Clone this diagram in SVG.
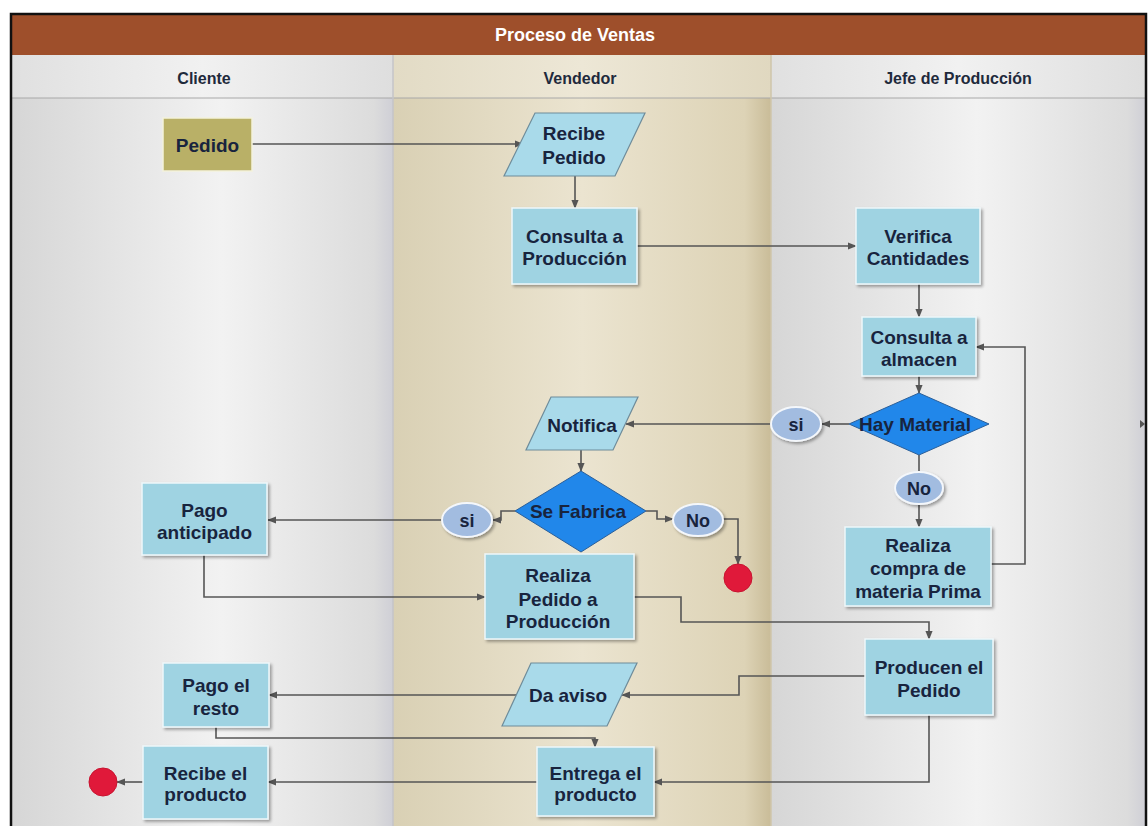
<svg xmlns="http://www.w3.org/2000/svg" width="1148" height="826" viewBox="0 0 1148 826">
  <defs>
    <linearGradient id="laneGray" x1="0" y1="0" x2="1" y2="0">
      <stop offset="0" stop-color="#d6d6d6"/>
      <stop offset="0.55" stop-color="#f2f2f2"/>
      <stop offset="0.95" stop-color="#dcdcdc"/>
      <stop offset="1" stop-color="#cfcfd6"/>
    </linearGradient>
    <linearGradient id="laneTan" x1="0" y1="0" x2="1" y2="0">
      <stop offset="0" stop-color="#d9d0b4"/>
      <stop offset="0.5" stop-color="#ebe4d0"/>
      <stop offset="0.93" stop-color="#ddd3b6"/>
      <stop offset="1" stop-color="#c9bc98"/>
    </linearGradient>
    <linearGradient id="headGray" x1="0" y1="0" x2="1" y2="0">
      <stop offset="0" stop-color="#e0e0e0"/>
      <stop offset="0.5" stop-color="#f1f1f1"/>
      <stop offset="1" stop-color="#dedede"/>
    </linearGradient>
    <linearGradient id="headTan" x1="0" y1="0" x2="1" y2="0">
      <stop offset="0" stop-color="#e2dbc5"/>
      <stop offset="0.5" stop-color="#ede7d6"/>
      <stop offset="1" stop-color="#e0d8c0"/>
    </linearGradient>
    <filter id="shadow" x="-10%" y="-10%" width="125%" height="130%">
      <feDropShadow dx="2" dy="2" stdDeviation="1.5" flood-color="#000" flood-opacity="0.35"/>
    </filter>
    <marker id="arrow" viewBox="0 0 10 10" refX="9" refY="5" markerWidth="9" markerHeight="9" markerUnits="userSpaceOnUse" orient="auto">
      <path d="M0,1 L10,5 L0,9 Z" fill="#555"/>
    </marker>
  </defs>
  <style>
    .lbl { font-family: "Liberation Sans", Arial, sans-serif; font-weight: bold; font-size: 19px; fill: #18243e; text-anchor: middle; }
    .small { font-size: 18px; }
    .head { font-family: "Liberation Sans", Arial, sans-serif; font-weight: bold; font-size: 16px; fill: #1f2a3c; text-anchor: middle; }
    .title { font-family: "Liberation Sans", Arial, sans-serif; font-weight: bold; font-size: 18px; fill: #ffffff; text-anchor: middle; }
    .box { fill: #9fd3e2; stroke: #eef7fa; stroke-width: 1.5; filter: url(#shadow); }
    .para { fill: #a9daea; stroke: #6f8c9a; stroke-width: 1.2; }
    .dia { fill: #2187ea; stroke: #2b5f99; stroke-width: 1; }
    .oval { fill: #a2bce0; stroke: #f4f7fb; stroke-width: 2; filter: url(#shadow); }
    .stop { fill: #e0193a; stroke: #c81430; stroke-width: 1; }
    .wire { fill: none; stroke: #555; stroke-width: 1.6; }
  </style>

  <!-- frame background -->
  <rect x="0" y="0" width="1148" height="826" fill="#ffffff"/>

  <!-- swimlanes -->
  <g id="lanes">
    <rect x="12" y="55" width="381" height="771" fill="url(#laneGray)"/>
    <rect x="393" y="55" width="378" height="771" fill="url(#laneTan)"/>
    <rect x="771" y="55" width="375" height="771" fill="url(#laneGray)"/>
    <rect x="12" y="55" width="381" height="43" fill="url(#headGray)"/>
    <rect x="393" y="55" width="378" height="43" fill="url(#headTan)"/>
    <rect x="771" y="55" width="375" height="43" fill="url(#headGray)"/>
    <line x1="12" y1="98" x2="1146" y2="98" stroke="#a8a8a8" stroke-width="1"/>
    <line x1="393" y1="55" x2="393" y2="826" stroke="#c4c4c8" stroke-width="1.5"/>
    <line x1="771" y1="55" x2="771" y2="826" stroke="#cfc6ab" stroke-width="1.5"/>
    <text class="head" x="204" y="84">Cliente</text>
    <text class="head" x="580" y="84">Vendedor</text>
    <text class="head" x="958" y="84">Jefe de Producción</text>
  </g>

  <!-- title band -->
  <g id="title">
    <rect x="11" y="14" width="1135" height="41" fill="#9e4f2b"/>
    <text class="title" x="575" y="41">Proceso de Ventas</text>
  </g>

  <!-- outer border -->
  <rect x="11" y="14" width="1135" height="820" fill="none" stroke="#111" stroke-width="2.5"/>

  <!-- connectors -->
  <g id="connectors">
    <path class="wire" d="M252,144 H523" marker-end="url(#arrow)"/>
    <path class="wire" d="M575,176 V208" marker-end="url(#arrow)"/>
    <path class="wire" d="M637,246 H856" marker-end="url(#arrow)"/>
    <path class="wire" d="M919,284 V317" marker-end="url(#arrow)"/>
    <path class="wire" d="M919,376 V393" marker-end="url(#arrow)"/>
    <path class="wire" d="M849,424 H822" marker-end="url(#arrow)"/>
    <path class="wire" d="M771,424 H626" marker-end="url(#arrow)"/>
    <path class="wire" d="M919,455 V472"/>
    <path class="wire" d="M919,504 V527" marker-end="url(#arrow)"/>
    <path class="wire" d="M991,564 H1025 V347 H976" marker-end="url(#arrow)"/>
    <path class="wire" d="M581,450 V471" marker-end="url(#arrow)"/>
    <path class="wire" d="M515,511 H501 V520 H493" marker-end="url(#arrow)"/>
    <path class="wire" d="M442,520 H268" marker-end="url(#arrow)"/>
    <path class="wire" d="M646,511 H657 V519 H673" marker-end="url(#arrow)"/>
    <path class="wire" d="M723,519 H738 V564" marker-end="url(#arrow)"/>
    <path class="wire" d="M204,555 V597 H485" marker-end="url(#arrow)"/>
    <path class="wire" d="M634,597 H681 V622 H929 V639" marker-end="url(#arrow)"/>
    <path class="wire" d="M865,676 H739 V695 H622" marker-end="url(#arrow)"/>
    <path class="wire" d="M516,695 H269" marker-end="url(#arrow)"/>
    <path class="wire" d="M216,727 V738 H595 V747" marker-end="url(#arrow)"/>
    <path class="wire" d="M929,715 V782 H654" marker-end="url(#arrow)"/>
    <path class="wire" d="M537,782 H268" marker-end="url(#arrow)"/>
    <path class="wire" d="M143,782 H117" marker-end="url(#arrow)"/>
    <path d="M1140,420 L1145,424 L1140,428 Z" fill="#555"/>
  </g>

  <!-- Cliente lane -->
  <g id="pedido">
    <rect x="163" y="118" width="89" height="53" fill="#b9b067" stroke="#f4f2dc" stroke-width="1.5"/>
    <text class="lbl" x="207.5" y="152">Pedido</text>
  </g>
  <g id="pago-anticipado">
    <rect class="box" x="142" y="483" width="125" height="72"/>
    <text class="lbl" x="204.5" y="517">Pago</text>
    <text class="lbl" x="204.5" y="539">anticipado</text>
  </g>
  <g id="pago-resto">
    <rect class="box" x="163" y="663" width="106" height="64"/>
    <text class="lbl" x="216" y="692">Pago el</text>
    <text class="lbl" x="216" y="715">resto</text>
  </g>
  <g id="recibe-producto">
    <rect class="box" x="143" y="746" width="125" height="73"/>
    <text class="lbl" x="205.5" y="780">Recibe el</text>
    <text class="lbl" x="205.5" y="801">producto</text>
  </g>
  <g id="fin-cliente">
    <circle class="stop" cx="103" cy="782" r="14"/>
  </g>

  <!-- Vendedor lane -->
  <g id="recibe-pedido">
    <polygon class="para" points="535,113 645,113 615,176 504,176"/>
    <text class="lbl" x="574" y="140">Recibe</text>
    <text class="lbl" x="574" y="164">Pedido</text>
  </g>
  <g id="consulta-produccion">
    <rect class="box" x="512" y="208" width="125" height="76"/>
    <text class="lbl" x="574.5" y="243">Consulta a</text>
    <text class="lbl" x="574.5" y="265">Producción</text>
  </g>
  <g id="notifica">
    <polygon class="para" points="551,397 638,397 613,450 526,450"/>
    <text class="lbl" x="582" y="432">Notifica</text>
  </g>
  <g id="se-fabrica">
    <polygon class="dia" points="581,471 646,511 581,552 515,511"/>
    <text class="lbl" x="578" y="518">Se Fabrica</text>
  </g>
  <g id="si-fabrica">
    <ellipse class="oval" cx="467" cy="520" rx="25" ry="17"/>
    <text class="lbl small" x="467" y="527">si</text>
  </g>
  <g id="no-fabrica">
    <ellipse class="oval" cx="698" cy="520" rx="25" ry="16"/>
    <text class="lbl small" x="698" y="527">No</text>
  </g>
  <g id="fin-vendedor">
    <circle class="stop" cx="738" cy="578" r="14"/>
  </g>
  <g id="realiza-pedido">
    <rect class="box" x="485" y="554" width="149" height="85"/>
    <text class="lbl" x="558" y="582">Realiza</text>
    <text class="lbl" x="558" y="606">Pedido a</text>
    <text class="lbl" x="558" y="628">Producción</text>
  </g>
  <g id="da-aviso">
    <polygon class="para" points="531,663 637,663 607,726 502,726"/>
    <text class="lbl" x="568" y="702">Da aviso</text>
  </g>
  <g id="entrega-producto">
    <rect class="box" x="537" y="747" width="117" height="69"/>
    <text class="lbl" x="595.5" y="780">Entrega el</text>
    <text class="lbl" x="595.5" y="801">producto</text>
  </g>

  <!-- Jefe de Producción lane -->
  <g id="verifica-cantidades">
    <rect class="box" x="856" y="208" width="124" height="76"/>
    <text class="lbl" x="918" y="243">Verifica</text>
    <text class="lbl" x="918" y="265">Cantidades</text>
  </g>
  <g id="consulta-almacen">
    <rect class="box" x="862" y="317" width="114" height="59"/>
    <text class="lbl" x="919" y="344">Consulta a</text>
    <text class="lbl" x="919" y="366">almacen</text>
  </g>
  <g id="hay-material">
    <polygon class="dia" points="919,393 989,424 919,455 849,424"/>
    <text class="lbl" x="915" y="431">Hay Material</text>
  </g>
  <g id="si-material">
    <ellipse class="oval" cx="796" cy="424" rx="25" ry="17"/>
    <text class="lbl small" x="796" y="431">si</text>
  </g>
  <g id="no-material">
    <ellipse class="oval" cx="919" cy="488" rx="24" ry="16"/>
    <text class="lbl small" x="919" y="495">No</text>
  </g>
  <g id="compra-materia">
    <rect class="box" x="845" y="527" width="146" height="79"/>
    <text class="lbl" x="918" y="552">Realiza</text>
    <text class="lbl" x="918" y="575">compra de</text>
    <text class="lbl" x="918" y="598">materia Prima</text>
  </g>
  <g id="produce-pedido">
    <rect class="box" x="865" y="639" width="128" height="76"/>
    <text class="lbl" x="929" y="674">Producen el</text>
    <text class="lbl" x="929" y="697">Pedido</text>
  </g>
</svg>
